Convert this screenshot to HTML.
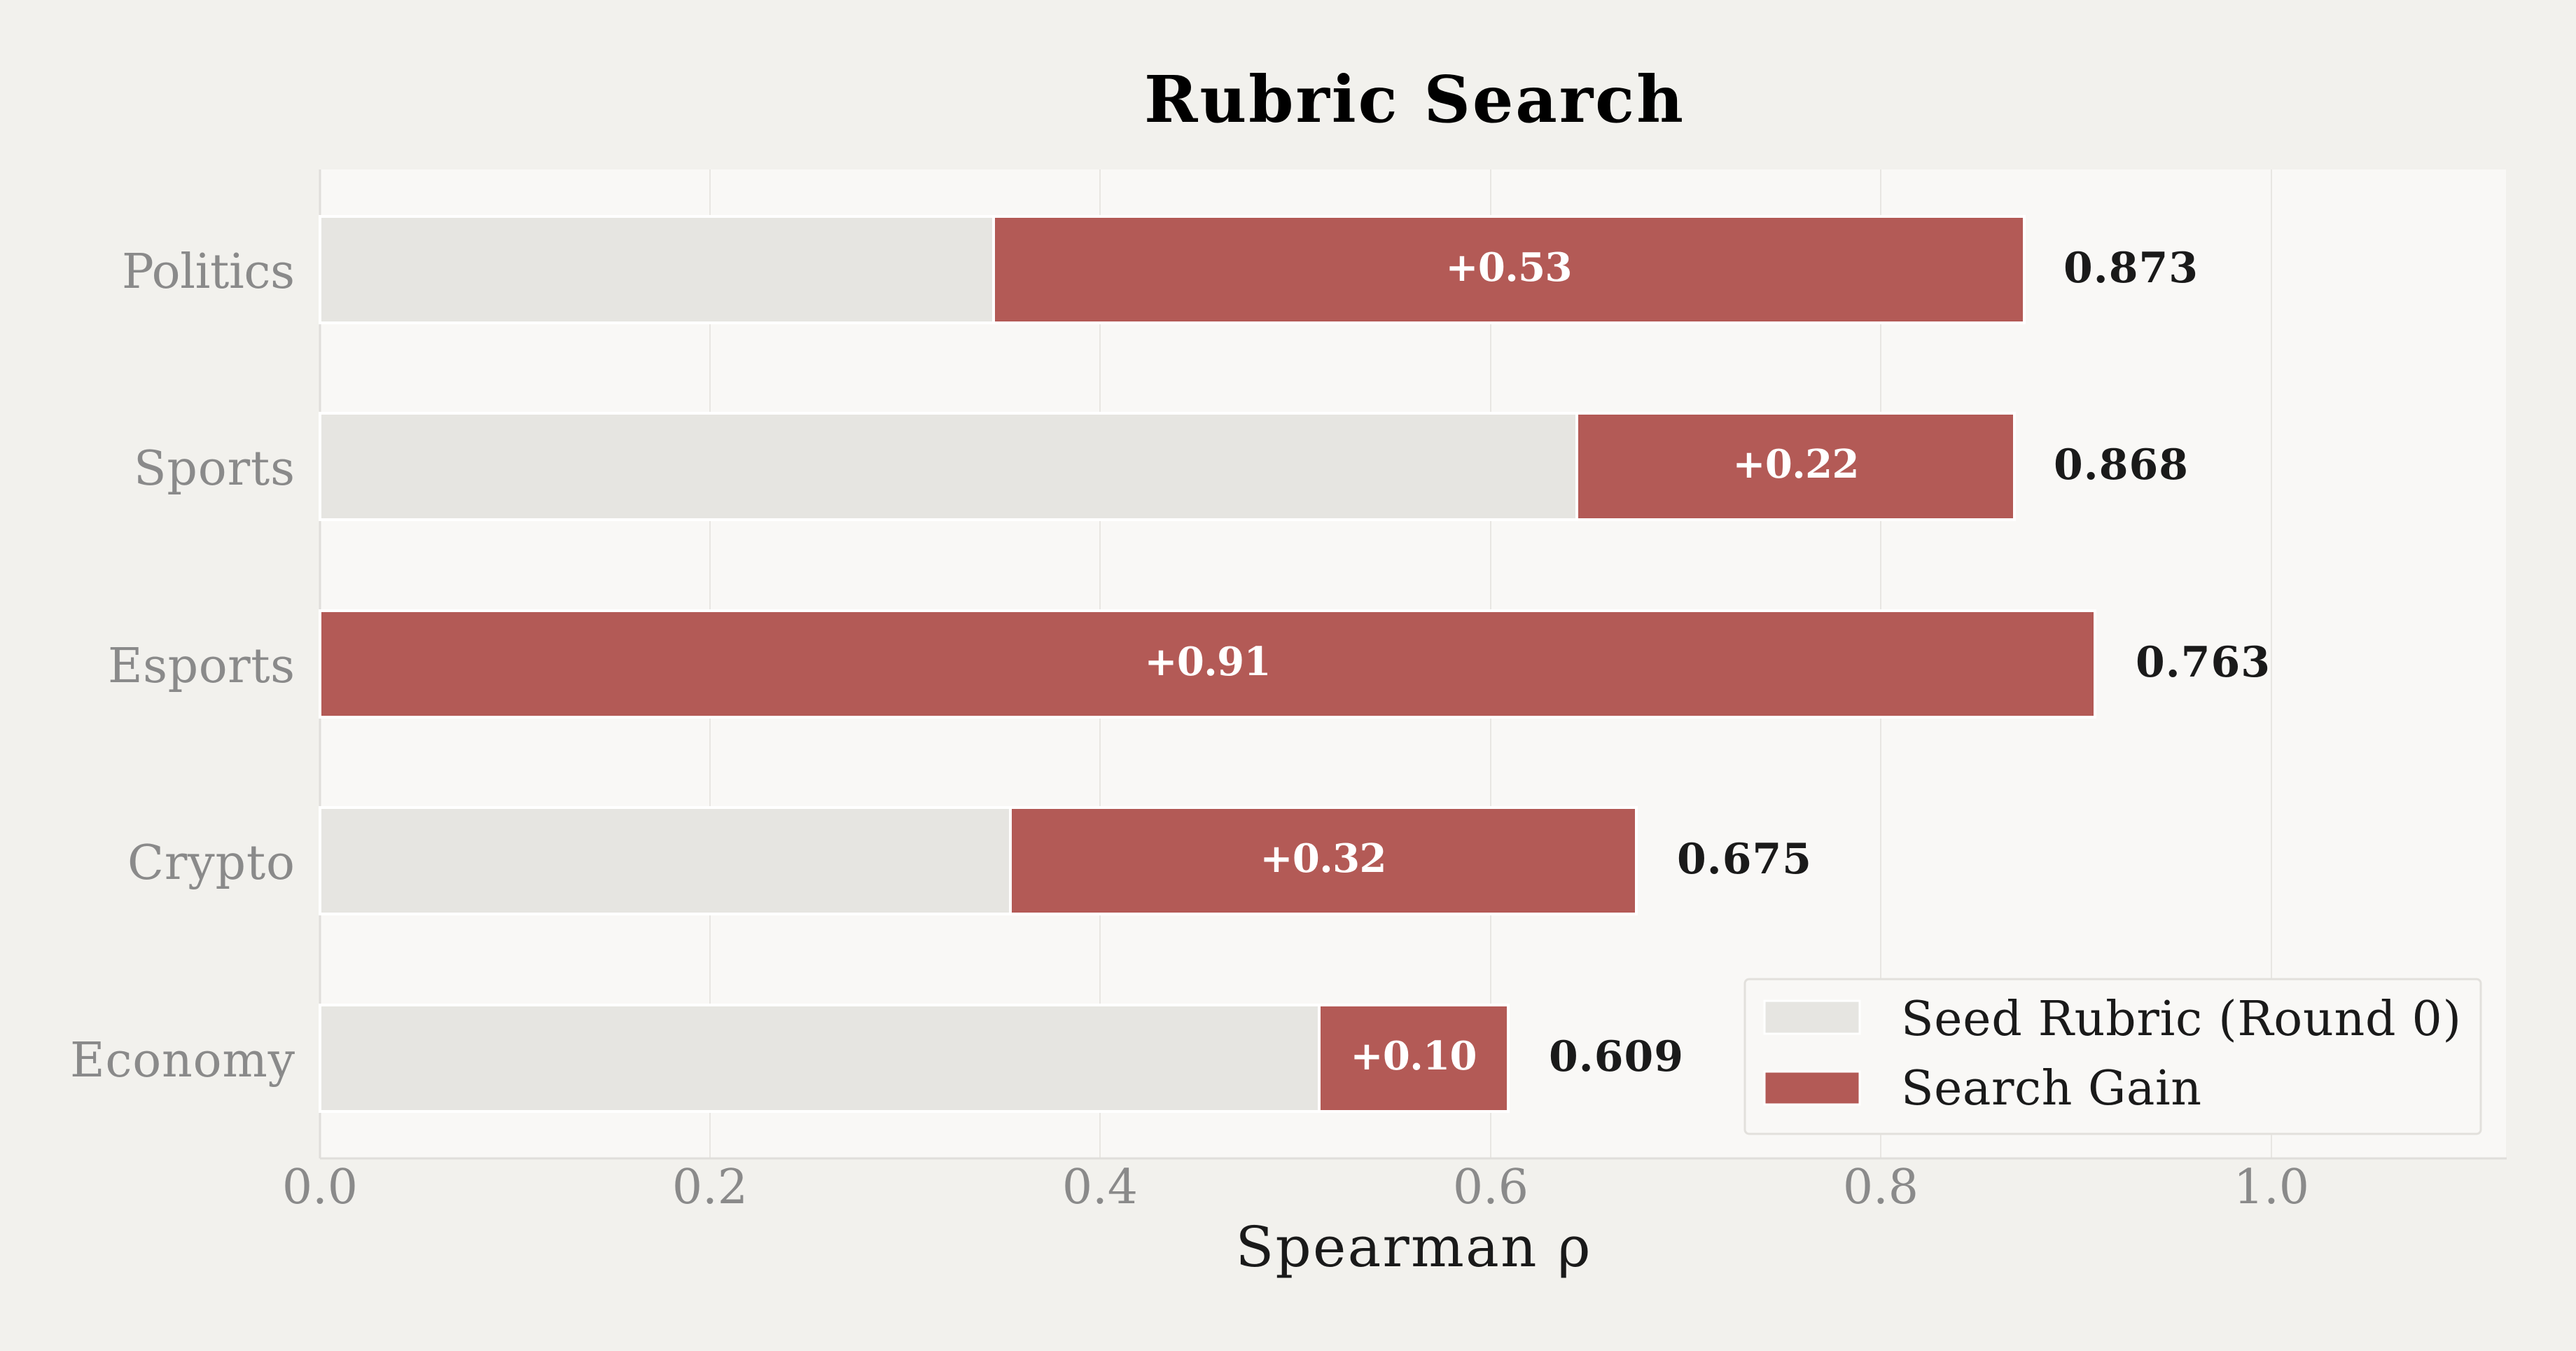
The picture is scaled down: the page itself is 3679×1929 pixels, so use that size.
<!DOCTYPE html>
<html><head><meta charset="utf-8"><style>
html,body{margin:0;padding:0;background:#f2f1ed;}
svg{display:block;font-family:"DejaVu Serif","Liberation Serif",serif;}
</style></head><body>
<svg width="3679" height="1929" viewBox="0 0 3679 1929" xmlns="http://www.w3.org/2000/svg">
<rect width="3679" height="1929" fill="#f2f1ed"/>
<rect x="457" y="242" width="3122" height="1411" fill="#f9f8f6"/>
<g stroke="#e8e6e2" stroke-width="2">
<line x1="1014" y1="242" x2="1014" y2="1653"/>
<line x1="1571" y1="242" x2="1571" y2="1653"/>
<line x1="2129" y1="242" x2="2129" y2="1653"/>
<line x1="2686" y1="242" x2="2686" y2="1653"/>
<line x1="3244" y1="242" x2="3244" y2="1653"/>
</g>
<line x1="457" y1="242" x2="457" y2="1654" stroke="#e0dedb" stroke-width="3"/>
<line x1="457" y1="1654" x2="3580" y2="1654" stroke="#e0dedb" stroke-width="3"/>
<g stroke="#ffffff" stroke-width="4">
<rect x="457" y="309" width="962" height="152" fill="#e6e5e1"/>
<rect x="1419" y="309" width="1472" height="152" fill="#b35a56"/>
<rect x="457" y="590" width="1795" height="152" fill="#e6e5e1"/>
<rect x="2252" y="590" width="625" height="152" fill="#b35a56"/>
<rect x="457" y="872" width="2535" height="152" fill="#b35a56"/>
<rect x="457" y="1153" width="986" height="152" fill="#e6e5e1"/>
<rect x="1443" y="1153" width="894" height="152" fill="#b35a56"/>
<rect x="457" y="1435" width="1427" height="152" fill="#e6e5e1"/>
<rect x="1884" y="1435" width="270" height="152" fill="#b35a56"/>
</g>
<g fill="#ffffff" font-weight="bold" font-size="56" text-anchor="middle">
<text x="2155" y="401" textLength="181">+0.53</text>
<text x="2565" y="682" textLength="181">+0.22</text>
<text x="1725" y="964" textLength="181">+0.91</text>
<text x="1890" y="1245" textLength="181">+0.32</text>
<text x="2019" y="1527" textLength="181">+0.10</text>
</g>
<g fill="#1a1a1a" font-weight="bold" font-size="60">
<text x="2947" y="403" textLength="192">0.873</text>
<text x="2933" y="684" textLength="192">0.868</text>
<text x="3050" y="966" textLength="192">0.763</text>
<text x="2395" y="1247" textLength="192">0.675</text>
<text x="2212" y="1529" textLength="192">0.609</text>
</g>
<g fill="#8a8a8a" font-size="68" text-anchor="end">
<text x="421" y="411" textLength="247">Politics</text>
<text x="421" y="692" textLength="230">Sports</text>
<text x="421" y="974" textLength="267">Esports</text>
<text x="421" y="1255" textLength="239">Crypto</text>
<text x="421" y="1537" textLength="321">Economy</text>
</g>
<g fill="#8a8a8a" font-size="68" text-anchor="middle">
<text x="457" y="1718">0.0</text>
<text x="1014" y="1718">0.2</text>
<text x="1571" y="1718">0.4</text>
<text x="2129" y="1718">0.6</text>
<text x="2686" y="1718">0.8</text>
<text x="3244" y="1718">1.0</text>
</g>
<text x="2018" y="1808" font-size="80" fill="#1a1a1a" text-anchor="middle" textLength="507">Spearman ρ</text>
<text x="2019" y="174" font-size="92" font-weight="bold" fill="#000" text-anchor="middle" textLength="770">Rubric Search</text>
<rect x="2492" y="1398" width="1051" height="221" rx="6" fill="#f9f8f6" stroke="#e2e0dc" stroke-width="3"/>
<rect x="2520" y="1429" width="136" height="47" fill="#e6e5e1" stroke="#fff" stroke-width="3"/>
<rect x="2520" y="1530" width="136" height="47" fill="#b35a56" stroke="#fff" stroke-width="3"/>
<g fill="#1a1a1a" font-size="68">
<text x="2715" y="1478" textLength="800">Seed Rubric (Round 0)</text>
<text x="2715" y="1577" textLength="429">Search Gain</text>
</g>
</svg>
</body></html>
